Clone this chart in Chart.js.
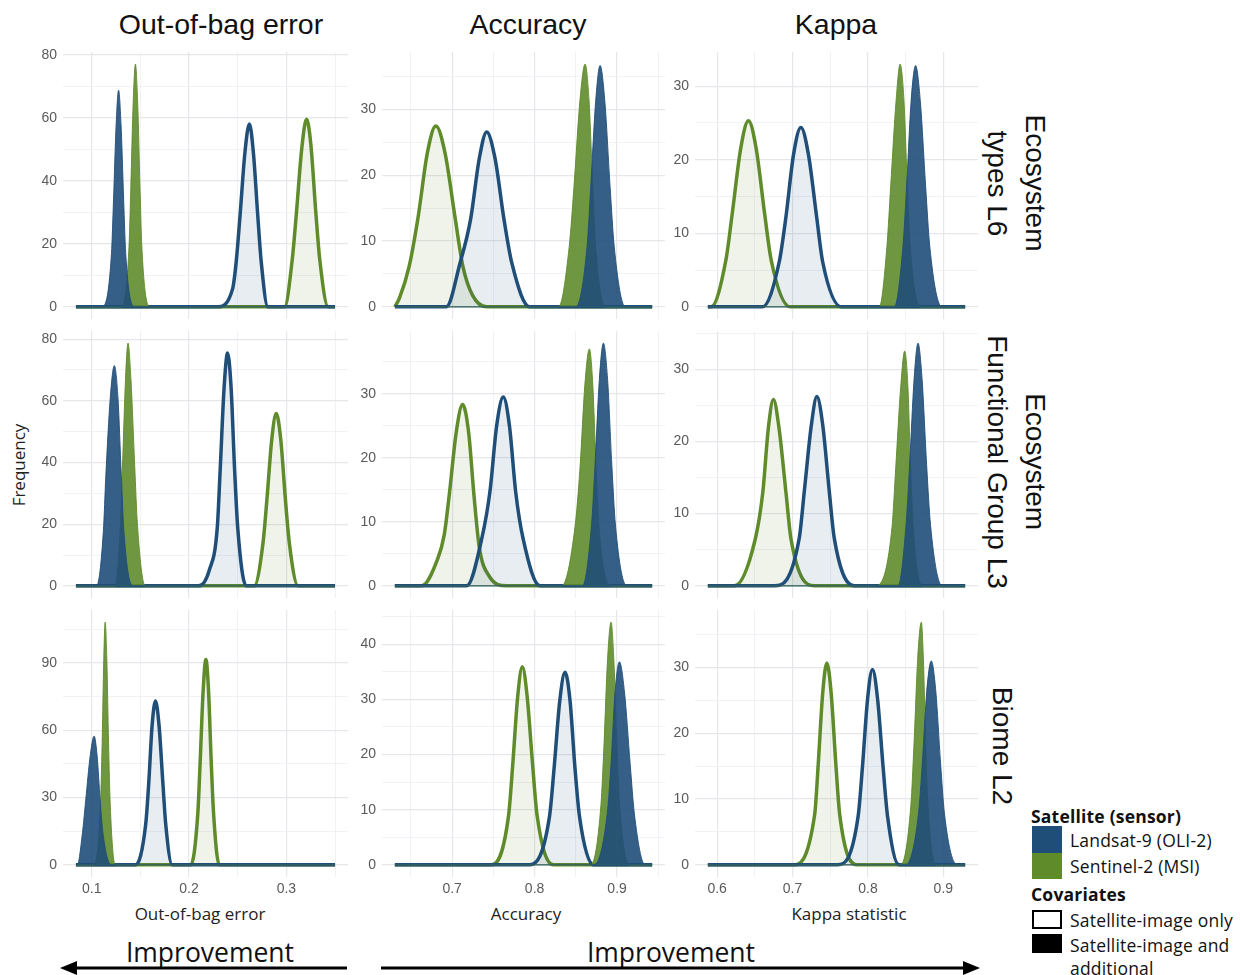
<!DOCTYPE html>
<html>
<head>
<meta charset="utf-8">
<script src="https://cdn.jsdelivr.net/npm/chart.js@4.4.1/dist/chart.umd.min.js"></script>
<style>
  body { margin: 0; background: #fff; }
  #wrap { position: relative; width: 1240px; height: 975px; overflow: hidden; font-family: "Liberation Sans", Arial, sans-serif; color: #111; }
  .abs { position: absolute; white-space: nowrap; }
  .ctr { transform: translate(-50%, -50%); }
  .coltitle { font-size: 28.5px; }
  .strip { font-size: 28px; writing-mode: vertical-rl; text-align: center; line-height: 38px; transform: translate(-50%, -50%); }
  .axt { font-family: "Open Sans", sans-serif; font-size: 17px; color: #222; }
  .lg { font-family: "Open Sans", sans-serif; font-size: 17.5px; letter-spacing: 0.2px; }
  .lgb { font-family: "Open Sans", sans-serif; font-size: 17.5px; font-weight: bold; letter-spacing: 0.2px; }
  .impr { font-family: "Open Sans", sans-serif; font-size: 26.5px; }
  canvas { position: absolute; }
</style>
</head>
<body>
<div id="wrap">
  <div class="abs ctr coltitle" style="left:221px;top:24px">Out-of-bag error</div>
  <div class="abs ctr coltitle" style="left:528px;top:24px">Accuracy</div>
  <div class="abs ctr coltitle" style="left:836px;top:24px">Kappa</div>

  <div class="abs strip" style="left:1016px;top:183px">Ecosystem<br>types L6</div>
  <div class="abs strip" style="left:1016px;top:462px">Ecosystem<br>Functional Group L3</div>
  <div class="abs strip" style="left:1002px;top:746px">Biome L2</div>

  <div class="abs axt" style="left:18px;top:465px;transform:translate(-50%,-50%) rotate(-90deg)">Frequency</div>
  <div class="abs ctr axt" style="left:200px;top:913px">Out-of-bag error</div>
  <div class="abs ctr axt" style="left:526px;top:913px">Accuracy</div>
  <div class="abs ctr axt" style="left:849px;top:913px">Kappa statistic</div>

  <div class="abs lgb" style="left:1031px;top:804px">Satellite (sensor)</div>
  <div class="abs" style="left:1032px;top:826px;width:30px;height:27px;background:#1f4e79"></div>
  <div class="abs" style="left:1032px;top:853px;width:30px;height:26px;background:#5f8b2b"></div>
  <div class="abs lg" style="left:1070px;top:828px">Landsat-9 (OLI-2)</div>
  <div class="abs lg" style="left:1070px;top:854px">Sentinel-2 (MSI)</div>
  <div class="abs lgb" style="left:1031px;top:882px">Covariates</div>
  <div class="abs" style="left:1032px;top:910px;width:26px;height:15px;border:2px solid #000;background:#fff"></div>
  <div class="abs" style="left:1032px;top:934px;width:30px;height:19px;background:#000"></div>
  <div class="abs lg" style="left:1070px;top:908px">Satellite-image only</div>
  <div class="abs lg" style="left:1070px;top:933px">Satellite-image and</div>
  <div class="abs lg" style="left:1070px;top:956px">additional</div>

  <div class="abs ctr impr" style="left:210px;top:952px">Improvement</div>
  <div class="abs ctr impr" style="left:671px;top:952px">Improvement</div>
  <svg class="abs" style="left:0;top:955px" width="1000" height="20">
    <line x1="74" y1="13" x2="347" y2="13" stroke="#000" stroke-width="3"/>
    <polygon points="60,13 77,6 77,20" fill="#000"/>
    <line x1="381" y1="13" x2="966" y2="13" stroke="#000" stroke-width="3"/>
    <polygon points="980,13 963,6 963,20" fill="#000"/>
  </svg>
</div>

<script>
// x extent of the density lines per metric
const oobRange = [0.0838, 0.35];
const accRange = [0.6306, 0.9425];
const kapRange = [0.5877, 0.9289];

// Ecosystem types L6
const typesOobL9Add = [[.110,0],[.1203,17],[.1224,34],[.1251,58],[.1276,68.8],[.1301,58],[.1328,34],[.1349,17],[.144,0]];
const typesOobS2Add = [[.130,0],[.1383,19],[.1402,38],[.1426,65],[.1449,77.1],[.1472,65],[.1496,38],[.1515,19],[.160,0]];
const typesOobL9Img = [[.229,0],[.2448,5.8],[.2485,14.5],[.2524,29],[.2574,49],[.262,58.1],[.2661,49],[.2706,29],[.2741,14.5],[.281,0]];
const typesOobS2Img = [[.2982,0],[.306,15],[.3103,29.8],[.3157,50],[.3207,59.6],[.325,52],[.3303,29.8],[.3343,15],[.343,0]];
const typesAccS2Img = [[.636,1.3],[.648,6.2],[.6589,13.75],[.670,23.4],[.6803,27.5],[.6914,23.4],[.7034,13.75],[.713,6.2],[.725,1.7],[.742,0]];
const typesAccL9Img = [[.693,0],[.7095,6.6],[.7224,13.3],[.733,22.6],[.7419,26.6],[.752,22.6],[.7629,13.3],[.7725,6.6],[.794,0]];
const typesAccS2Add = [[.829,0],[.842,9.2],[.8478,18.4],[.855,31.4],[.8612,36.9],[.866,31.4],[.8705,18.4],[.874,9.2],[.886,0]];
const typesAccL9Add = [[.850,0],[.8636,9.2],[.8681,18.3],[.874,31.2],[.8794,36.7],[.8852,31.2],[.8915,18.3],[.8965,9.2],[.910,0]];
const typesKapS2Img = [[.592,0],[.6115,6.3],[.620,12.65],[.6312,21.5],[.6415,25.3],[.6518,21.5],[.663,12.65],[.6718,6.3],[.697,0]];
const typesKapL9Img = [[.660,0],[.6823,6.1],[.6912,12.2],[.7013,20.7],[.7111,24.4],[.7211,20.7],[.732,12.2],[.740,6.1],[.765,0]];
const typesKapS2Add = [[.815,0],[.8252,8.25],[.8302,16.5],[.8373,28],[.8426,33],[.8478,28],[.8522,16.5],[.856,8.25],[.870,0]];
const typesKapL9Add = [[.835,0],[.8464,8.2],[.8513,16.4],[.8572,27.9],[.8632,32.8],[.8695,27.9],[.8765,16.4],[.882,8.2],[.898,0]];

// Ecosystem Functional Group L3
const efgOobL9Add = [[.105,0],[.112,17.9],[.1145,35.7],[.119,60.7],[.1232,71.4],[.127,60.7],[.1304,35.7],[.133,17.9],[.142,0]];
const efgOobS2Add = [[.124,0],[.1295,19.7],[.1317,39.4],[.1347,66.9],[.1373,78.7],[.1403,66.9],[.1441,39.4],[.147,19.7],[.155,0]];
const efgOobL9Img = [[.210,0],[.2207,5],[.229,18.9],[.232,37.7],[.236,64.2],[.2396,75.5],[.2432,64.2],[.2468,37.7],[.250,18.9],[.2586,0]];
const efgOobS2Img = [[.267,0],[.276,14],[.280,28],[.285,47.5],[.2896,55.9],[.2942,47.5],[.299,28],[.303,14],[.312,0]];
const efgAccS2Img = [[.663,0],[.6819,4],[.6905,8],[.6965,14.15],[.705,24],[.7127,28.3],[.720,24],[.7265,14.15],[.733,6],[.745,1.5],[.766,0]];
const efgAccL9Img = [[.7176,0],[.736,7.4],[.7459,14.75],[.754,25],[.762,29.5],[.7695,25],[.777,14.75],[.786,7.4],[.8066,0]];
const efgAccS2Add = [[.8329,0],[.849,9.25],[.8551,18.5],[.861,31.5],[.8664,37],[.8705,31.5],[.8745,18.5],[.878,9.25],[.893,0]];
const efgAccL9Add = [[.858,0],[.869,9.5],[.8733,18.95],[.8785,32.2],[.8834,37.9],[.8885,32.2],[.8936,18.95],[.898,9.5],[.9118,0]];
const efgKapS2Img = [[.623,0],[.6505,6.45],[.6605,12.9],[.668,21.9],[.6746,25.8],[.682,21.9],[.6913,12.9],[.698,6.45],[.7288,0]];
const efgKapL9Img = [[.676,0],[.7088,6.55],[.7156,13.1],[.725,22.3],[.7323,26.2],[.740,22.3],[.7487,13.1],[.7554,6.55],[.7817,0]];
const efgKapS2Add = [[.8103,0],[.8319,8.1],[.8368,16.25],[.8435,27.6],[.8487,32.5],[.853,27.6],[.8566,16.25],[.860,8.1],[.872,0]];
const efgKapL9Add = [[.840,0],[.8505,8.4],[.8553,16.8],[.8612,28.6],[.8664,33.6],[.8718,28.6],[.8778,16.8],[.883,8.4],[.8985,0]];

// Biome L2
const biomeOobL9Add = [[.0852,0],[.0905,14.35],[.0938,28.7],[.0985,48.8],[.1025,57.4],[.1055,48.8],[.1087,28.7],[.1115,14.35],[.120,0]];
const biomeOobS2Add = [[.102,0],[.109,27],[.1107,54.1],[.1124,92],[.1138,108.2],[.1155,92],[.1173,54.1],[.119,27],[.1242,0]];
const biomeOobL9Img = [[.1449,0],[.1555,18.25],[.1586,36.5],[.162,62],[.1655,73],[.1692,62],[.1731,36.5],[.176,18.25],[.1827,0]];
const biomeOobS2Img = [[.2018,0],[.209,22.9],[.2114,45.75],[.2145,77.8],[.2173,91.5],[.220,77.8],[.2228,45.75],[.2252,22.9],[.231,0]];
const biomeAccS2Img = [[.748,0],[.7685,9],[.7734,17.95],[.7795,30.5],[.7851,35.9],[.791,30.5],[.7977,17.95],[.803,9],[.8227,0]];
const biomeAccL9Img = [[.7944,0],[.818,8.7],[.8236,17.45],[.8305,29.7],[.8369,34.9],[.843,29.7],[.849,17.45],[.8545,8.7],[.8713,0]];
const biomeAccS2Add = [[.868,0],[.8805,11],[.8842,22],[.8885,37.4],[.8927,44],[.896,37.4],[.8996,22],[.903,11],[.915,0]];
const biomeAccL9Add = [[.872,0],[.888,9.2],[.8927,18.4],[.8975,31.3],[.9028,36.8],[.909,31.3],[.9158,18.4],[.921,9.2],[.934,0]];
const biomeKapS2Img = [[.700,0],[.7294,7.7],[.7341,15.35],[.740,26.1],[.7455,30.7],[.7512,26.1],[.7574,15.35],[.7625,7.7],[.786,0]];
const biomeKapL9Img = [[.7597,0],[.787,7.4],[.7927,14.85],[.7995,25.2],[.806,29.7],[.8128,25.2],[.8201,14.85],[.826,7.4],[.8413,0]];
const biomeKapS2Add = [[.8434,0],[.857,9.2],[.8611,18.45],[.866,31.4],[.8708,36.9],[.8735,31.4],[.8765,18.45],[.8795,9.2],[.890,0]];
const biomeKapL9Add = [[.850,0],[.867,7.75],[.8721,15.5],[.878,26.4],[.884,31],[.890,26.4],[.8963,15.5],[.9015,7.75],[.9184,0]];

const xRanges = [oobRange, accRange, kapRange];
const yMajor = [[20, 10, 10], [20, 10, 10], [30, 10, 10]];

// [L9 image only, S2 image only, L9 + additional, S2 + additional]
const grid = [
  [[typesOobL9Img, typesOobS2Img, typesOobL9Add, typesOobS2Add],
   [typesAccL9Img, typesAccS2Img, typesAccL9Add, typesAccS2Add],
   [typesKapL9Img, typesKapS2Img, typesKapL9Add, typesKapS2Add]],
  [[efgOobL9Img, efgOobS2Img, efgOobL9Add, efgOobS2Add],
   [efgAccL9Img, efgAccS2Img, efgAccL9Add, efgAccS2Add],
   [efgKapL9Img, efgKapS2Img, efgKapL9Add, efgKapS2Add]],
  [[biomeOobL9Img, biomeOobS2Img, biomeOobL9Add, biomeOobS2Add],
   [biomeAccL9Img, biomeAccS2Img, biomeAccL9Add, biomeAccS2Add],
   [biomeKapL9Img, biomeKapS2Img, biomeKapL9Add, biomeKapS2Add]]
];

const BLUE = [31, 78, 121];
const GREEN = [95, 139, 43];
const rgba = (c, a) => `rgba(${c[0]},${c[1]},${c[2]},${a})`;
const GRID_MAJOR = '#e6e7eb';
const GRID_MINOR = '#eeeff2';

// layout of the panels (plot areas)
const colLeft = [23, 342, 655];
const colWidth = [325, 323, 323];
const rowTop = [52, 331, 610];
const plotH = 267;
const yAxisW = 40;

const isMult = (v, step) => Math.abs(v / step - Math.round(v / step)) < 1e-6;
function stepTicks(min, max, step) {
  const out = [];
  for (let v = Math.ceil(min / step - 1e-9) * step; v <= max + 1e-9; v += step) {
    out.push({ value: +v.toFixed(4) });
  }
  return out;
}
function toPts(curve, range) {
  return [{ x: range[0], y: 0 }, ...curve.map(p => ({ x: p[0], y: p[1] })), { x: range[1], y: 0 }];
}

const wrap = document.getElementById('wrap');

grid.forEach((row, r) => {
  row.forEach((curves, c) => {
    const bottom = r === 2;
    const range = xRanges[c];
    const span = range[1] - range[0];
    const hmax = Math.max(...curves.flat().map(p => p[1]));
    const major = yMajor[r][c];

    const cv = document.createElement('canvas');
    cv.width = colWidth[c];
    cv.height = 10 + plotH + (bottom ? 40 : 0);
    cv.style.left = colLeft[c] + 'px';
    cv.style.top = (rowTop[r] - 10) + 'px';
    wrap.appendChild(cv);

    const styles = [
      { col: BLUE, add: false, order: 2 },
      { col: GREEN, add: false, order: 3 },
      { col: BLUE, add: true, order: 0 },
      { col: GREEN, add: true, order: 1 }
    ];
    const datasets = curves.map((cur, i) => {
      const s = styles[i];
      return {
        data: toPts(cur, range),
        order: s.order,
        fill: 'origin',
        borderColor: s.add ? rgba(s.col, 0.9) : rgba(s.col, 1),
        backgroundColor: s.add ? rgba(s.col, 0.9) : rgba(s.col, 0.1),
        borderWidth: s.add ? 1 : 3.5,
        pointRadius: 0,
        cubicInterpolationMode: 'monotone'
      };
    });

    new Chart(cv, {
      type: 'line',
      data: { datasets },
      options: {
        responsive: false,
        animation: false,
        layout: { autoPadding: false, padding: { top: 10, left: 0, right: 0, bottom: 0 } },
        plugins: { legend: { display: false }, tooltip: { enabled: false } },
        scales: {
          x: {
            type: 'linear',
            min: range[0] - 0.05 * span,
            max: range[1] + 0.05 * span,
            afterBuildTicks: s => { s.ticks = stepTicks(s.min, s.max, 0.05); },
            afterFit: s => { s.height = bottom ? 40 : 0; s.paddingLeft = 0; s.paddingRight = 0; },
            border: { display: false },
            grid: {
              drawTicks: false,
              color: ctx => (ctx.tick && isMult(ctx.tick.value, 0.1)) ? GRID_MAJOR : GRID_MINOR,
              lineWidth: ctx => (ctx.tick && isMult(ctx.tick.value, 0.1)) ? 1.2 : 0.8
            },
            ticks: {
              display: bottom,
              autoSkip: false,
              maxRotation: 0,
              padding: 4,
              color: '#5a5a5a',
              font: { family: 'Liberation Sans', size: 14 },
              callback: v => isMult(v, 0.1) ? v.toFixed(1) : ''
            }
          },
          y: {
            min: -0.05 * hmax,
            max: 1.05 * hmax,
            afterBuildTicks: s => { s.ticks = stepTicks(0, s.max, major / 2); },
            afterFit: s => { s.width = yAxisW; s.paddingTop = 0; s.paddingBottom = 0; },
            border: { display: false },
            grid: {
              drawTicks: false,
              color: ctx => (ctx.tick && isMult(ctx.tick.value, major)) ? GRID_MAJOR : GRID_MINOR,
              lineWidth: ctx => (ctx.tick && isMult(ctx.tick.value, major)) ? 1.2 : 0.8
            },
            ticks: {
              autoSkip: false,
              padding: 6,
              color: '#5a5a5a',
              font: { family: 'Liberation Sans', size: 14 },
              callback: v => isMult(v, major) ? String(Math.round(v)) : ''
            }
          }
        }
      }
    });
  });
});
</script>
</body>
</html>
